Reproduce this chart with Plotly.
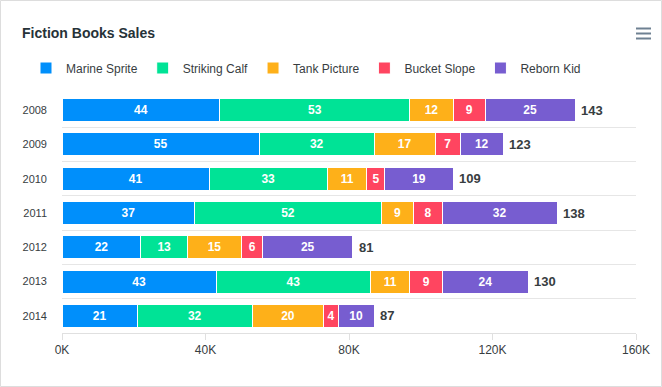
import plotly.graph_objects as go

years = ["2008", "2009", "2010", "2011", "2012", "2013", "2014"]
series_names = ["Marine Sprite", "Striking Calf", "Tank Picture", "Bucket Slope", "Reborn Kid"]
marine_sprite = [44, 55, 41, 37, 22, 43, 21]
striking_calf = [53, 32, 33, 52, 13, 43, 32]
tank_picture = [12, 17, 11, 9, 15, 11, 20]
bucket_slope = [9, 7, 5, 8, 6, 9, 4]
reborn_kid = [25, 12, 19, 32, 25, 24, 10]
x_tick_values = [0, 40, 80, 120, 160]
x_tick_labels = ["0K", "40K", "80K", "120K", "160K"]

colors = ["#008FFB", "#00E396", "#FEB019", "#FF4560", "#775DD0"]
series = [marine_sprite, striking_calf, tank_picture, bucket_slope, reborn_kid]
totals = [sum(v) for v in zip(*series)]

FONT = "Liberation Sans, Arial, Helvetica, sans-serif"
W, H = 662, 387
L, R, T, B = 62, 26, 93, 54
PW, PH = W - L - R, H - T - B

def px_x(p):
    return (p - L) / PW

def px_y(p):
    return (H - B - p) / PH

fig = go.Figure()
for name, vals, col in zip(series_names, series, colors):
    fig.add_trace(go.Bar(
        y=years, x=vals, name=name, orientation="h",
        marker=dict(color=col, line=dict(color="#ffffff", width=1)),
        text=vals, texttemplate="%{x}", textposition="inside",
        insidetextanchor="middle", textangle=0, constraintext="none",
        textfont=dict(color="#ffffff", size=12, family=FONT, weight="bold"),
        hoverinfo="x+name",
    ))

annotations = []
for idx, tot in enumerate(totals):
    annotations.append(dict(
        x=tot, y=idx, xref="x", yref="y", text=str(tot), showarrow=False,
        xanchor="left", yanchor="middle", xshift=4,
        font=dict(color="#373d3f", size=13, family=FONT, weight="bold"),
    ))

shapes = []
# outer card border
shapes.append(dict(type="rect", xref="paper", yref="paper",
                   x0=px_x(0.5), x1=px_x(W - 0.5), y0=px_y(H - 0.5), y1=px_y(0.5),
                   line=dict(color="#dddddd", width=1), fillcolor="rgba(0,0,0,0)", layer="below"))
# hamburger menu icon
for yy in [28.5, 33.5, 38.5]:
    shapes.append(dict(type="line", xref="paper", yref="paper",
                       x0=px_x(636), x1=px_x(651), y0=px_y(yy), y1=px_y(yy),
                       line=dict(color="#6E8192", width=2)))

fig.update_layout(
    width=W, height=H,
    margin=dict(l=L, r=R, t=T, b=B, pad=0),
    barmode="stack", bargap=0.33,
    paper_bgcolor="#ffffff", plot_bgcolor="#ffffff",
    font=dict(family=FONT, color="#373d3f", size=12),
    title=dict(text="Fiction Books Sales", x=22 / W, xref="container", xanchor="left",
               y=1 - 33 / H, yref="container", yanchor="middle",
               font=dict(size=14, family=FONT, color="#263238", weight="bold")),
    legend=dict(orientation="h", x=px_x(306), xanchor="center", y=px_y(68), yanchor="middle",
                font=dict(size=12, family=FONT, color="#373d3f"),
                traceorder="normal", itemclick=False, itemdoubleclick=False,
                bgcolor="rgba(0,0,0,0)"),
    xaxis=dict(range=[0, 160], tickvals=x_tick_values, ticktext=x_tick_labels,
               showgrid=False, zeroline=False,
               showline=True, linecolor="#e0e0e0", linewidth=1,
               ticks="outside", ticklen=6, tickcolor="#e0e0e0",
               tickfont=dict(size=12, family=FONT, color="#373d3f")),
    yaxis=dict(type="category", categoryorder="array", categoryarray=years,
               range=[len(years) - 0.5, -0.5], tickson="boundaries", showgrid=True,
               gridcolor="#e6e6e6", gridwidth=1, ticks="", zeroline=False,
               showline=False, ticklabelstandoff=14,
               tickfont=dict(size=11, family=FONT, color="#373d3f")),
    shapes=shapes,
    annotations=annotations,
    showlegend=True,
)

fig.write_html("out.html", config={"displayModeBar": False},
               post_script="document.body.style.margin='0px';")
